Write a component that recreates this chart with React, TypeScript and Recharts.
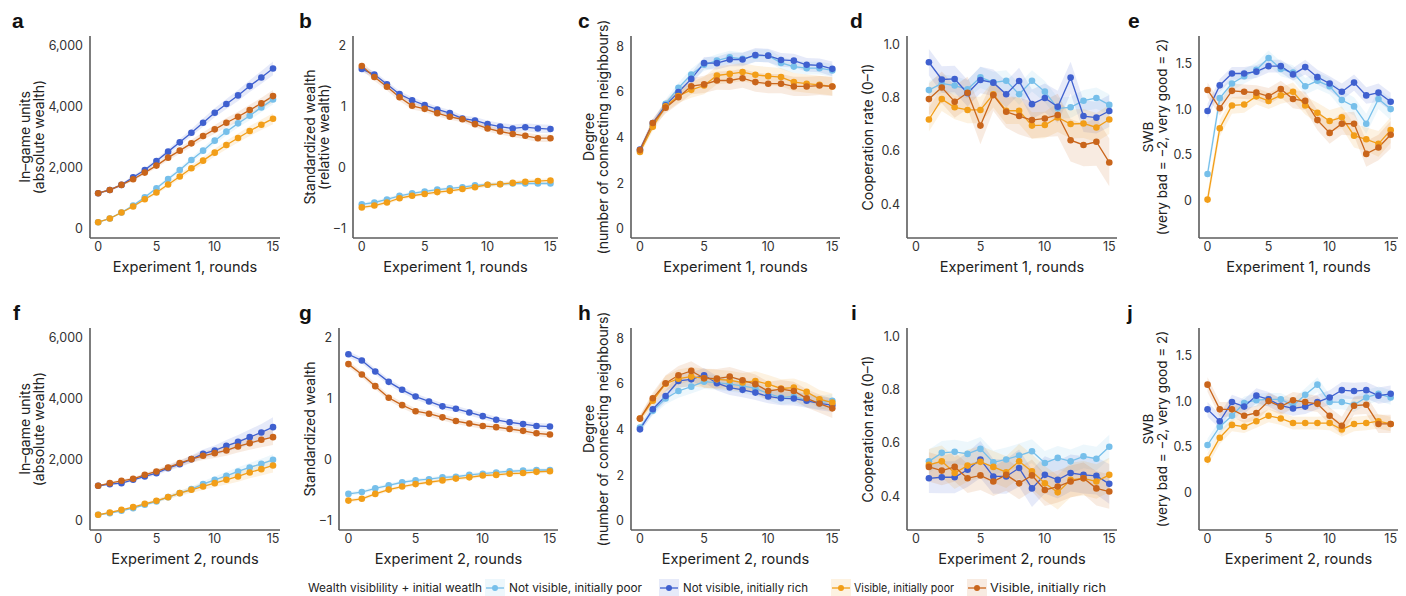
import React from 'react';
import { ComposedChart, Line, Area, XAxis, YAxis } from 'recharts';

const COLORS: Record<string, string> = { nvp: '#76bfea', nvr: '#3f60cf', vp: '#f29e18', vr: '#c9651b' };
const SERIES = ['nvp', 'nvr', 'vp', 'vr'];
const LEGEND_TITLE = 'Wealth visiblility + initial weatlh';
const LEGEND_NAMES = ['Not visible, initially poor', 'Not visible, initially rich', 'Visible, initially poor', 'Visible, initially rich'];

const ROUNDS = [0, 1, 2, 3, 4, 5, 6, 7, 8, 9, 10, 11, 12, 13, 14, 15];
const ROUNDS_COOP = [1, 2, 3, 4, 5, 6, 7, 8, 9, 10, 11, 12, 13, 14, 15];
const X_TICKS = [0, 5, 10, 15];

const TICKS_WEALTH = [0, 2000, 4000, 6000];
const LABELS_WEALTH = ['0', '2,000', '4,000', '6,000'];
const TICKS_STD = [-1, 0, 1, 2];
const LABELS_STD = ['\u22121', '0', '1', '2'];
const TICKS_DEGREE = [0, 2, 4, 6, 8];
const LABELS_DEGREE = ['0', '2', '4', '6', '8'];
const TICKS_COOP = [0.4, 0.6, 0.8, 1.0];
const LABELS_COOP = ['0.4', '0.6', '0.8', '1.0'];
const TICKS_SWB = [0, 0.5, 1.0, 1.5];
const LABELS_SWB = ['0', '0.5', '1.0', '1.5'];

// Experiment 1 — absolute wealth
const A_NVP = [217, 337, 533, 761, 1033, 1326, 1630, 1924, 2250, 2554, 2880, 3174, 3446, 3696, 3967, 4228];
const A_NVR = [1163, 1270, 1435, 1685, 1924, 2217, 2522, 2826, 3141, 3467, 3793, 4076, 4359, 4663, 4946, 5239];
const A_VP = [217, 337, 533, 728, 967, 1185, 1446, 1707, 1978, 2228, 2489, 2739, 2967, 3196, 3402, 3598];
const A_VR = [1163, 1270, 1435, 1620, 1837, 2065, 2326, 2554, 2793, 3033, 3250, 3467, 3663, 3880, 4098, 4337];
const A_CI_NVP = [20, 25, 30, 40, 50, 60, 70, 80, 90, 100, 115, 125, 135, 145, 155, 165];
const A_CI_NVR = [30, 35, 45, 55, 65, 75, 90, 105, 120, 135, 150, 165, 180, 195, 210, 225];
const A_CI_VP = [20, 25, 30, 40, 50, 60, 75, 90, 100, 115, 130, 140, 150, 160, 170, 180];
const A_CI_VR = [30, 35, 45, 55, 65, 75, 90, 100, 115, 125, 140, 150, 165, 175, 185, 200];

// Experiment 1 — standardized wealth
const B_NVP = [-0.6, -0.57, -0.52, -0.46, -0.42, -0.39, -0.36, -0.34, -0.32, -0.29, -0.28, -0.27, -0.26, -0.26, -0.26, -0.26];
const B_NVR = [1.61, 1.52, 1.36, 1.2, 1.1, 1.02, 0.95, 0.89, 0.8, 0.77, 0.71, 0.67, 0.64, 0.66, 0.64, 0.63];
const B_VP = [-0.65, -0.62, -0.57, -0.5, -0.46, -0.43, -0.4, -0.38, -0.35, -0.32, -0.28, -0.27, -0.25, -0.23, -0.22, -0.21];
const B_VR = [1.66, 1.48, 1.32, 1.15, 1.01, 0.96, 0.89, 0.83, 0.79, 0.71, 0.64, 0.59, 0.55, 0.52, 0.48, 0.48];
const B_CI_NVP = [0.03, 0.03, 0.03, 0.025, 0.025, 0.025, 0.025, 0.025, 0.025, 0.025, 0.025, 0.025, 0.025, 0.025, 0.025, 0.025];
const B_CI_NVR = [0.05, 0.05, 0.05, 0.05, 0.05, 0.05, 0.05, 0.05, 0.05, 0.055, 0.06, 0.06, 0.065, 0.065, 0.07, 0.07];
const B_CI_VP = [0.03, 0.03, 0.03, 0.03, 0.03, 0.03, 0.03, 0.03, 0.03, 0.03, 0.035, 0.035, 0.035, 0.035, 0.035, 0.035];
const B_CI_VR = [0.06, 0.06, 0.06, 0.06, 0.06, 0.05, 0.05, 0.05, 0.05, 0.05, 0.05, 0.05, 0.05, 0.055, 0.06, 0.06];

// Experiment 1 — degree
const C_NVP = [3.42, 4.54, 5.48, 6.18, 6.76, 7.19, 7.37, 7.52, 7.45, 7.59, 7.59, 7.27, 7.11, 7.04, 7.04, 6.94];
const C_NVR = [3.48, 4.64, 5.41, 5.99, 6.57, 7.26, 7.26, 7.42, 7.42, 7.62, 7.59, 7.4, 7.37, 7.19, 7.16, 7.01];
const C_VP = [3.37, 4.47, 5.37, 5.82, 6.09, 6.28, 6.72, 6.79, 6.87, 6.75, 6.69, 6.65, 6.43, 6.36, 6.31, 6.24];
const C_VR = [3.45, 4.64, 5.31, 5.77, 6.25, 6.33, 6.5, 6.5, 6.6, 6.43, 6.36, 6.36, 6.24, 6.24, 6.28, 6.24];
const C_CI_NVP = [0.12, 0.15, 0.2, 0.22, 0.25, 0.27, 0.28, 0.28, 0.28, 0.28, 0.28, 0.28, 0.28, 0.28, 0.28, 0.28];
const C_CI_NVR = [0.12, 0.15, 0.2, 0.22, 0.25, 0.27, 0.28, 0.3, 0.3, 0.3, 0.3, 0.3, 0.3, 0.3, 0.3, 0.32];
const C_CI_VP = [0.12, 0.18, 0.25, 0.3, 0.35, 0.38, 0.4, 0.4, 0.4, 0.4, 0.4, 0.4, 0.4, 0.4, 0.4, 0.4];
const C_CI_VR = [0.12, 0.18, 0.25, 0.3, 0.35, 0.38, 0.4, 0.42, 0.42, 0.42, 0.42, 0.42, 0.42, 0.42, 0.42, 0.42];

// Experiment 1 — cooperation rate (rounds 1–15)
const D_NVP = [0.83, 0.855, 0.847, 0.833, 0.878, 0.859, 0.865, 0.814, 0.865, 0.824, 0.761, 0.765, 0.79, 0.8, 0.774];
const D_NVR = [0.935, 0.87, 0.872, 0.818, 0.868, 0.858, 0.814, 0.864, 0.777, 0.8, 0.767, 0.877, 0.732, 0.726, 0.751];
const D_VP = [0.719, 0.796, 0.765, 0.755, 0.755, 0.814, 0.752, 0.752, 0.696, 0.698, 0.727, 0.702, 0.704, 0.689, 0.719];
const D_VR = [0.796, 0.84, 0.786, 0.82, 0.696, 0.811, 0.748, 0.732, 0.717, 0.723, 0.736, 0.641, 0.623, 0.635, 0.557];
const D_CI_NVP = [0.035, 0.035, 0.035, 0.035, 0.04, 0.04, 0.04, 0.04, 0.04, 0.04, 0.04, 0.04, 0.04, 0.04, 0.04];
const D_CI_NVR = [0.05, 0.05, 0.05, 0.05, 0.05, 0.05, 0.05, 0.05, 0.055, 0.055, 0.06, 0.06, 0.06, 0.06, 0.06];
const D_CI_VP = [0.045, 0.045, 0.045, 0.05, 0.05, 0.05, 0.05, 0.05, 0.05, 0.05, 0.055, 0.055, 0.055, 0.055, 0.055];
const D_CI_VR = [0.06, 0.06, 0.06, 0.06, 0.07, 0.06, 0.06, 0.07, 0.07, 0.07, 0.08, 0.08, 0.08, 0.09, 0.09];

// Experiment 1 — SWB
const E_NVP = [0.29, 1.12, 1.28, 1.36, 1.43, 1.56, 1.44, 1.4, 1.25, 1.31, 1.25, 1.1, 1.03, 0.84, 1.11, 1.0];
const E_NVR = [0.98, 1.26, 1.39, 1.39, 1.41, 1.47, 1.47, 1.38, 1.46, 1.35, 1.28, 1.19, 1.29, 1.15, 1.18, 1.08];
const E_VP = [0.01, 0.79, 1.04, 1.05, 1.14, 1.09, 1.15, 1.19, 1.04, 0.96, 0.87, 0.91, 0.71, 0.67, 0.62, 0.77];
const E_VR = [1.21, 1.01, 1.2, 1.19, 1.18, 1.14, 1.22, 1.11, 1.09, 0.88, 0.74, 0.84, 0.84, 0.51, 0.58, 0.72];
const E_CI_NVP = [0.08, 0.08, 0.08, 0.08, 0.08, 0.08, 0.08, 0.08, 0.09, 0.09, 0.09, 0.1, 0.1, 0.11, 0.11, 0.12];
const E_CI_NVR = [0.08, 0.07, 0.07, 0.07, 0.07, 0.07, 0.07, 0.07, 0.08, 0.08, 0.08, 0.09, 0.09, 0.09, 0.1, 0.1];
const E_CI_VP = [0.08, 0.09, 0.09, 0.09, 0.09, 0.09, 0.09, 0.1, 0.1, 0.11, 0.12, 0.12, 0.13, 0.13, 0.14, 0.14];
const E_CI_VR = [0.08, 0.08, 0.08, 0.08, 0.08, 0.09, 0.09, 0.1, 0.1, 0.11, 0.12, 0.12, 0.13, 0.14, 0.14, 0.15];

// Experiment 2 — absolute wealth
const F_NVP = [196, 251, 327, 414, 523, 632, 773, 904, 1035, 1198, 1340, 1471, 1612, 1743, 1863, 1993];
const F_NVR = [1144, 1198, 1231, 1340, 1449, 1558, 1721, 1852, 2015, 2190, 2298, 2451, 2582, 2734, 2887, 3061];
const F_VP = [196, 272, 359, 447, 556, 654, 773, 904, 1013, 1122, 1231, 1340, 1449, 1580, 1688, 1808];
const F_VR = [1144, 1231, 1307, 1373, 1503, 1612, 1743, 1885, 2015, 2124, 2211, 2298, 2429, 2538, 2647, 2734];
const F_CI_NVP = [15, 20, 25, 30, 40, 50, 60, 70, 80, 95, 110, 120, 135, 150, 165, 180];
const F_CI_NVR = [30, 35, 40, 50, 60, 70, 85, 100, 120, 140, 165, 190, 220, 250, 280, 320];
const F_CI_VP = [15, 20, 25, 35, 45, 55, 70, 85, 100, 115, 130, 150, 170, 190, 210, 230];
const F_CI_VR = [30, 35, 40, 50, 60, 70, 85, 100, 115, 135, 155, 175, 200, 220, 240, 260];

// Experiment 2 — standardized wealth
const G_NVP = [-0.56, -0.53, -0.47, -0.42, -0.37, -0.34, -0.32, -0.29, -0.28, -0.25, -0.23, -0.21, -0.19, -0.18, -0.17, -0.17];
const G_NVR = [1.72, 1.62, 1.44, 1.27, 1.14, 1.03, 0.95, 0.87, 0.83, 0.77, 0.71, 0.65, 0.61, 0.58, 0.55, 0.54];
const G_VP = [-0.67, -0.64, -0.56, -0.49, -0.44, -0.4, -0.37, -0.34, -0.31, -0.29, -0.26, -0.25, -0.23, -0.22, -0.2, -0.19];
const G_VR = [1.56, 1.39, 1.2, 1.01, 0.89, 0.79, 0.75, 0.69, 0.63, 0.59, 0.55, 0.53, 0.5, 0.47, 0.43, 0.41];
const G_CI_NVP = [0.03, 0.03, 0.03, 0.03, 0.03, 0.03, 0.03, 0.03, 0.03, 0.03, 0.03, 0.03, 0.03, 0.03, 0.03, 0.03];
const G_CI_NVR = [0.05, 0.05, 0.05, 0.05, 0.05, 0.05, 0.05, 0.05, 0.05, 0.05, 0.05, 0.05, 0.05, 0.05, 0.05, 0.05];
const G_CI_VP = [0.03, 0.03, 0.03, 0.03, 0.03, 0.03, 0.03, 0.03, 0.03, 0.03, 0.03, 0.03, 0.03, 0.03, 0.03, 0.03];
const G_CI_VR = [0.05, 0.05, 0.05, 0.05, 0.05, 0.05, 0.05, 0.05, 0.05, 0.05, 0.05, 0.05, 0.05, 0.05, 0.05, 0.05];

// Experiment 2 — degree
const H_NVP = [4.09, 4.82, 5.36, 5.69, 5.88, 6.1, 6.06, 5.99, 5.91, 5.8, 5.58, 5.4, 5.45, 5.28, 5.18, 5.26];
const H_NVR = [4.01, 4.89, 5.47, 6.13, 6.2, 6.38, 6.03, 5.84, 5.74, 5.62, 5.45, 5.37, 5.36, 5.26, 5.15, 5.07];
const H_VP = [4.48, 5.26, 6.01, 6.23, 6.32, 6.25, 6.2, 6.16, 6.06, 6.13, 5.99, 5.8, 5.84, 5.65, 5.33, 5.18];
const H_VR = [4.48, 5.37, 6.03, 6.38, 6.57, 6.25, 6.23, 6.32, 6.16, 5.99, 5.69, 5.77, 5.69, 5.37, 5.14, 4.93];
const H_CI_NVP = [0.15, 0.2, 0.25, 0.3, 0.3, 0.32, 0.32, 0.32, 0.32, 0.32, 0.3, 0.3, 0.3, 0.3, 0.3, 0.3];
const H_CI_NVR = [0.15, 0.2, 0.25, 0.3, 0.3, 0.32, 0.32, 0.32, 0.32, 0.32, 0.3, 0.3, 0.3, 0.3, 0.3, 0.3];
const H_CI_VP = [0.15, 0.25, 0.35, 0.4, 0.42, 0.42, 0.42, 0.42, 0.42, 0.42, 0.4, 0.4, 0.4, 0.4, 0.4, 0.4];
const H_CI_VR = [0.15, 0.25, 0.35, 0.4, 0.42, 0.42, 0.42, 0.42, 0.42, 0.42, 0.4, 0.4, 0.4, 0.4, 0.4, 0.42];

// Experiment 2 — cooperation rate (rounds 1–15)
const I_NVP = [0.531, 0.563, 0.567, 0.559, 0.578, 0.527, 0.538, 0.553, 0.569, 0.525, 0.544, 0.531, 0.55, 0.541, 0.586];
const I_NVR = [0.467, 0.471, 0.471, 0.499, 0.538, 0.474, 0.474, 0.506, 0.429, 0.48, 0.461, 0.487, 0.48, 0.476, 0.446];
const I_VP = [0.518, 0.531, 0.487, 0.515, 0.529, 0.51, 0.49, 0.531, 0.493, 0.448, 0.414, 0.461, 0.467, 0.455, 0.48];
const I_VR = [0.51, 0.496, 0.51, 0.467, 0.478, 0.455, 0.48, 0.448, 0.478, 0.423, 0.436, 0.455, 0.467, 0.429, 0.417];
const I_CI_NVP = [0.045, 0.045, 0.045, 0.045, 0.045, 0.045, 0.045, 0.045, 0.045, 0.045, 0.045, 0.045, 0.045, 0.045, 0.045];
const I_CI_NVR = [0.055, 0.06, 0.06, 0.065, 0.07, 0.065, 0.065, 0.07, 0.07, 0.07, 0.07, 0.07, 0.07, 0.07, 0.075];
const I_CI_VP = [0.06, 0.06, 0.06, 0.06, 0.06, 0.06, 0.06, 0.065, 0.065, 0.065, 0.065, 0.065, 0.065, 0.065, 0.065];
const I_CI_VR = [0.055, 0.055, 0.055, 0.055, 0.055, 0.055, 0.06, 0.06, 0.06, 0.06, 0.06, 0.06, 0.06, 0.065, 0.065];

// Experiment 2 — SWB
const J_NVP = [0.52, 0.72, 0.84, 0.98, 1.01, 1.02, 1.02, 0.95, 1.07, 1.18, 0.99, 0.99, 0.96, 1.04, 1.08, 1.04];
const J_NVR = [0.91, 0.78, 0.99, 0.94, 1.06, 1.02, 0.95, 0.92, 0.94, 0.99, 1.04, 1.12, 1.11, 1.12, 1.06, 1.08];
const J_VP = [0.36, 0.6, 0.74, 0.72, 0.78, 0.84, 0.81, 0.76, 0.76, 0.76, 0.76, 0.69, 0.75, 0.76, 0.78, 0.75];
const J_VR = [1.18, 0.91, 0.91, 0.84, 0.87, 1.0, 0.94, 1.01, 0.99, 0.97, 0.84, 0.73, 0.95, 0.96, 0.75, 0.75];
const J_CI_NVP = [0.07, 0.07, 0.07, 0.07, 0.07, 0.07, 0.07, 0.07, 0.07, 0.08, 0.08, 0.08, 0.08, 0.08, 0.08, 0.08];
const J_CI_NVR = [0.08, 0.08, 0.08, 0.08, 0.08, 0.08, 0.08, 0.08, 0.08, 0.08, 0.08, 0.09, 0.09, 0.09, 0.09, 0.09];
const J_CI_VP = [0.07, 0.07, 0.07, 0.07, 0.07, 0.07, 0.07, 0.07, 0.07, 0.07, 0.08, 0.08, 0.08, 0.08, 0.08, 0.08];
const J_CI_VR = [0.08, 0.08, 0.08, 0.08, 0.08, 0.09, 0.09, 0.09, 0.09, 0.09, 0.09, 0.1, 0.1, 0.1, 0.1, 0.1];

const FONT = 'Inter, "Noto Sans", sans-serif';
const AXIS_COLOR = '#5c5c5c';

function buildRows(rounds: number[], vals: number[][], cis: number[][]) {
  return rounds.map((r, i) => {
    const row: any = { round: r };
    SERIES.forEach((k, j) => {
      row[k] = vals[j][i];
      row[k + 'Band'] = [vals[j][i] - cis[j][i], vals[j][i] + cis[j][i]];
    });
    return row;
  });
}

const ROW1 = { top: 36, bottom: 238 };
const ROW2 = { top: 328, bottom: 530 };

const PANELS = [
  { id: 'a', row: ROW1, x0: 90, x1: 280, yw: 82, domain: [-300, 6300], ticks: TICKS_WEALTH, labels: LABELS_WEALTH, title: ['In\u2013game units', '(absolute wealth)'], tx: [24.5, 38.5], tsize: 14, xlabel: 'Experiment 1, rounds', rounds: ROUNDS, vals: [A_NVP, A_NVR, A_VP, A_VR], cis: [A_CI_NVP, A_CI_NVR, A_CI_VP, A_CI_VR] },
  { id: 'b', row: ROW1, x0: 353, x1: 558, yw: 58, domain: [-1.15, 2.15], ticks: TICKS_STD, labels: LABELS_STD, title: ['Standardized wealth', '(relative wealth)'], tx: [309, 323], tsize: 14, xlabel: 'Experiment 1, rounds', rounds: ROUNDS, vals: [B_NVP, B_NVR, B_VP, B_VR], cis: [B_CI_NVP, B_CI_NVR, B_CI_VP, B_CI_VR] },
  { id: 'c', row: ROW1, x0: 631, x1: 840, yw: 56, domain: [-0.4, 8.45], ticks: TICKS_DEGREE, labels: LABELS_DEGREE, title: ['Degree', '(number of connecting neighbours)'], tx: [588, 602], tsize: 14, xlabel: 'Experiment 1, rounds', rounds: ROUNDS, vals: [C_NVP, C_NVR, C_VP, C_VR], cis: [C_CI_NVP, C_CI_NVR, C_CI_VP, C_CI_VR] },
  { id: 'd', row: ROW1, x0: 907, x1: 1117, yw: 48, domain: [0.272, 1.034], ticks: TICKS_COOP, labels: LABELS_COOP, title: ['Cooperation rate (0\u20131)'], tx: [867], tsize: 14, xlabel: 'Experiment 1, rounds', rounds: ROUNDS_COOP, vals: [D_NVP, D_NVR, D_VP, D_VR], cis: [D_CI_NVP, D_CI_NVR, D_CI_VP, D_CI_VR] },
  { id: 'e', row: ROW1, x0: 1199, x1: 1398, yw: 62, domain: [-0.41, 1.8], ticks: TICKS_SWB, labels: LABELS_SWB, title: ['SWB', '(very bad = \u22122, very good = 2)'], tx: [1148, 1162], tsize: 13.5, xlabel: 'Experiment 1, rounds', rounds: ROUNDS, vals: [E_NVP, E_NVR, E_VP, E_VR], cis: [E_CI_NVP, E_CI_NVR, E_CI_VP, E_CI_VR] },
  { id: 'f', row: ROW2, x0: 90, x1: 280, yw: 82, domain: [-300, 6300], ticks: TICKS_WEALTH, labels: LABELS_WEALTH, title: ['In\u2013game units', '(absolute wealth)'], tx: [24.5, 38.5], tsize: 14, xlabel: 'Experiment 2, rounds', rounds: ROUNDS, vals: [F_NVP, F_NVR, F_VP, F_VR], cis: [F_CI_NVP, F_CI_NVR, F_CI_VP, F_CI_VR] },
  { id: 'g', row: ROW2, x0: 339, x1: 558, yw: 44, domain: [-1.15, 2.15], ticks: TICKS_STD, labels: LABELS_STD, title: ['Standardized wealth'], tx: [309], tsize: 14, xlabel: 'Experiment 2, rounds', rounds: ROUNDS, vals: [G_NVP, G_NVR, G_VP, G_VR], cis: [G_CI_NVP, G_CI_NVR, G_CI_VP, G_CI_VR] },
  { id: 'h', row: ROW2, x0: 631, x1: 840, yw: 56, domain: [-0.4, 8.45], ticks: TICKS_DEGREE, labels: LABELS_DEGREE, title: ['Degree', '(number of connecting neighbours)'], tx: [588, 602], tsize: 14, xlabel: 'Experiment 2, rounds', rounds: ROUNDS, vals: [H_NVP, H_NVR, H_VP, H_VR], cis: [H_CI_NVP, H_CI_NVR, H_CI_VP, H_CI_VR] },
  { id: 'i', row: ROW2, x0: 907, x1: 1117, yw: 48, domain: [0.272, 1.034], ticks: TICKS_COOP, labels: LABELS_COOP, title: ['Cooperation rate (0\u20131)'], tx: [867], tsize: 14, xlabel: 'Experiment 2, rounds', rounds: ROUNDS_COOP, vals: [I_NVP, I_NVR, I_VP, I_VR], cis: [I_CI_NVP, I_CI_NVR, I_CI_VP, I_CI_VR] },
  { id: 'j', row: ROW2, x0: 1199, x1: 1398, yw: 62, domain: [-0.41, 1.8], ticks: TICKS_SWB, labels: LABELS_SWB, title: ['SWB', '(very bad = \u22122, very good = 2)'], tx: [1148, 1162], tsize: 13.5, xlabel: 'Experiment 2, rounds', rounds: ROUNDS, vals: [J_NVP, J_NVR, J_VP, J_VR], cis: [J_CI_NVP, J_CI_NVR, J_CI_VP, J_CI_VR] },
];

// room above the plot so long rotated axis titles are not clipped
const MT = 32;
const XH = 45;

function Panel({ p }: { p: any }) {
  const rows = buildRows(p.rounds, p.vals, p.cis);
  const plotW = p.x1 - p.x0;
  const plotH = p.row.bottom - p.row.top;
  const left = p.x0 - p.yw;
  const top = p.row.top - MT;
  const W = p.yw + plotW + 2;
  const H = MT + plotH + XH;
  const cy = MT + plotH / 2;

  const yTitle = () => (
    <g>
      {p.title.map((t: string, i: number) => {
        const x = p.tx[i] - left;
        return (
          <text key={i} x={x} y={cy} transform={`rotate(-90 ${x} ${cy})`} textAnchor="middle"
            dominantBaseline="central" fontSize={p.tsize} fill="#222" fontFamily={FONT}>{t}</text>
        );
      })}
    </g>
  );
  const xTitle = () => (
    <text x={p.yw + plotW / 2} y={MT + plotH + 29} textAnchor="middle" dominantBaseline="central"
      fontSize={14.6} fill="#222" fontFamily={FONT}>{p.xlabel}</text>
  );

  return (
    <div style={{ position: 'absolute', left, top }}>
      <ComposedChart width={W} height={H} data={rows} margin={{ top: MT, right: 2, left: 0, bottom: 0 }}>
        <XAxis type="number" dataKey="round" domain={[-0.7, 15.6]} ticks={X_TICKS} allowDataOverflow
          height={XH} axisLine={{ stroke: AXIS_COLOR, strokeWidth: 1.6 }} tickLine={false} tickSize={3} tickMargin={1}
          tick={{ fill: '#333', fontSize: 12.5, fontFamily: FONT }} label={xTitle} />
        <YAxis type="number" domain={p.domain} ticks={p.ticks} allowDataOverflow width={p.yw}
          tickFormatter={(v: number) => p.labels[p.ticks.indexOf(v)] ?? String(v)}
          axisLine={{ stroke: AXIS_COLOR, strokeWidth: 1.6 }} tickLine={false} tickSize={4} tickMargin={3}
          tick={{ fill: '#333', fontSize: 12.5, fontFamily: FONT }} label={yTitle} />
        {SERIES.map((k) => (
          <Area key={k + 'b'} type="linear" dataKey={k + 'Band'} stroke="none" fill={COLORS[k]} fillOpacity={0.13}
            isAnimationActive={false} dot={false} activeDot={false} />
        ))}
        {SERIES.map((k) => (
          <Line key={k} type="linear" dataKey={k} stroke={COLORS[k]} strokeWidth={1.3}
            dot={{ r: 3.3, fill: COLORS[k], stroke: 'none', strokeWidth: 0 }} activeDot={false}
            isAnimationActive={false} />
        ))}
      </ComposedChart>
    </div>
  );
}

const LETTERS = [
  { t: 'a', x: 12, y: 28 }, { t: 'b', x: 299, y: 28 }, { t: 'c', x: 578, y: 28 }, { t: 'd', x: 850, y: 28 }, { t: 'e', x: 1128, y: 28 },
  { t: 'f', x: 13, y: 320 }, { t: 'g', x: 299, y: 320 }, { t: 'h', x: 578, y: 320 }, { t: 'i', x: 851, y: 320 }, { t: 'j', x: 1127, y: 320 },
];

const LEGEND_MARKERS = [495, 669, 841, 977];
const LEGEND_TEXT = [{ x: 509, w: 133 }, { x: 683, w: 125 }, { x: 854, w: 100 }, { x: 990, w: 116 }];

function Overlay() {
  const ly = 588;
  return (
    <svg width={1406} height={596} style={{ position: 'absolute', left: 0, top: 0, pointerEvents: 'none' }}>
      {LETTERS.map((l) => (
        <text key={l.t} x={l.x} y={l.y} fontSize={21} fontWeight="bold" fill="#111"
          fontFamily='"Liberation Sans", Arial, sans-serif'>{l.t}</text>
      ))}
      <text x={308} y={ly} dominantBaseline="central" fontSize={11.5} fill="#222" fontFamily={FONT}
        textLength={174} lengthAdjust="spacingAndGlyphs">{LEGEND_TITLE}</text>
      {SERIES.map((k, i) => {
        const cx = LEGEND_MARKERS[i];
        return (
          <g key={k}>
            <rect x={cx - 10} y={ly - 9} width={20} height={18} fill={COLORS[k]} fillOpacity={0.13} />
            <line x1={cx - 9} x2={cx + 9} y1={ly} y2={ly} stroke={COLORS[k]} strokeWidth={1.3} />
            <circle cx={cx} cy={ly} r={3} fill={COLORS[k]} />
            <text x={LEGEND_TEXT[i].x} y={ly} dominantBaseline="central" fontSize={11.5} fill="#222" fontFamily={FONT}
              textLength={LEGEND_TEXT[i].w} lengthAdjust="spacingAndGlyphs">{LEGEND_NAMES[i]}</text>
          </g>
        );
      })}
    </svg>
  );
}

export default function App() {
  return (
    <div style={{ position: 'absolute', left: 0, top: 0, width: 1406, height: 596, background: '#fff', overflow: 'hidden' }}>
      {PANELS.map((p) => <Panel key={p.id} p={p} />)}
      <Overlay />
    </div>
  );
}
